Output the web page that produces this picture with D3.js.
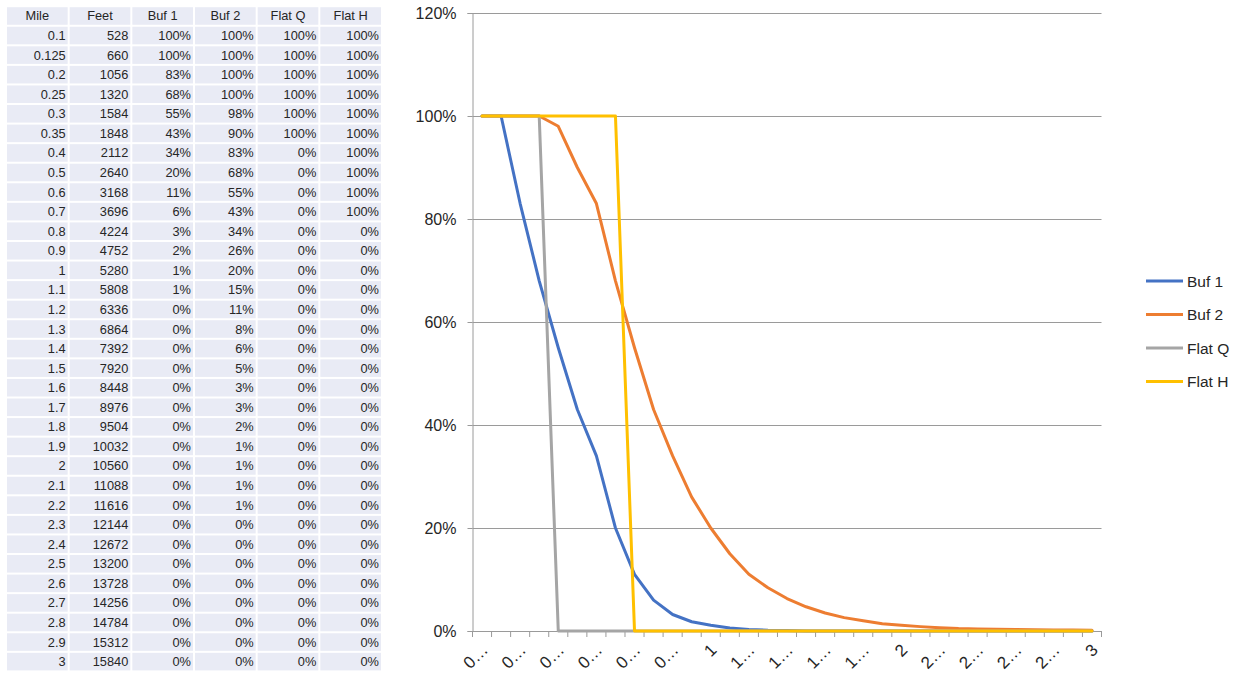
<!DOCTYPE html>
<html>
<head>
<meta charset="utf-8">
<script src="https://cdn.jsdelivr.net/npm/d3@7"></script>
<style>
  html, body { margin: 0; padding: 0; background: #ffffff; }
  svg { display: block; }
  text { font-family: "Liberation Sans", Arial, sans-serif; fill: #262626; }
</style>
</head>
<body>
<svg id="sheet" width="1242" height="673"></svg>
<script>
// ---- Worksheet table ----
const headers = ["Mile", "Feet", "Buf 1", "Buf 2", "Flat Q", "Flat H"];
const miles = [0.1, 0.125, 0.2, 0.25, 0.3, 0.35, 0.4, 0.5, 0.6, 0.7, 0.8, 0.9, 1, 1.1, 1.2, 1.3, 1.4, 1.5, 1.6, 1.7, 1.8, 1.9, 2, 2.1, 2.2, 2.3, 2.4, 2.5, 2.6, 2.7, 2.8, 2.9, 3];
const feet = [528, 660, 1056, 1320, 1584, 1848, 2112, 2640, 3168, 3696, 4224, 4752, 5280, 5808, 6336, 6864, 7392, 7920, 8448, 8976, 9504, 10032, 10560, 11088, 11616, 12144, 12672, 13200, 13728, 14256, 14784, 15312, 15840];
const tableBuf1 = [100, 100, 83, 68, 55, 43, 34, 20, 11, 6, 3, 2, 1, 1, 0, 0, 0, 0, 0, 0, 0, 0, 0, 0, 0, 0, 0, 0, 0, 0, 0, 0, 0];
const tableBuf2 = [100, 100, 100, 100, 98, 90, 83, 68, 55, 43, 34, 26, 20, 15, 11, 8, 6, 5, 3, 3, 2, 1, 1, 1, 1, 0, 0, 0, 0, 0, 0, 0, 0];
const tableFlatQ = [100, 100, 100, 100, 100, 100, 0, 0, 0, 0, 0, 0, 0, 0, 0, 0, 0, 0, 0, 0, 0, 0, 0, 0, 0, 0, 0, 0, 0, 0, 0, 0, 0];
const tableFlatH = [100, 100, 100, 100, 100, 100, 100, 100, 100, 100, 0, 0, 0, 0, 0, 0, 0, 0, 0, 0, 0, 0, 0, 0, 0, 0, 0, 0, 0, 0, 0, 0, 0];

// ---- Chart series (fractions, one value per mile category) ----
const buf1 = [1, 1, 0.83, 0.68, 0.55, 0.43, 0.34, 0.20, 0.11, 0.06, 0.032, 0.018, 0.011, 0.006, 0.003, 0.0015, 0.001, 0, 0, 0, 0, 0, 0, 0, 0, 0, 0, 0, 0, 0, 0, 0, 0];
const buf2 = [1, 1, 1, 1, 0.98, 0.90, 0.83, 0.68, 0.55, 0.43, 0.34, 0.26, 0.20, 0.15, 0.11, 0.084, 0.063, 0.047, 0.035, 0.026, 0.02, 0.014, 0.011, 0.0085, 0.0065, 0.0048, 0.004, 0.0035, 0.003, 0.0025, 0.002, 0.002, 0.0015];
const flatQ = [1, 1, 1, 1, 0, 0, 0, 0, 0, 0, 0, 0, 0, 0, 0, 0, 0, 0, 0, 0, 0, 0, 0, 0, 0, 0, 0, 0, 0, 0, 0, 0, 0];
const flatH = [1, 1, 1, 1, 1, 1, 1, 1, 0, 0, 0, 0, 0, 0, 0, 0, 0, 0, 0, 0, 0, 0, 0, 0, 0, 0, 0, 0, 0, 0, 0, 0, 0];
const seriesNames = ["Buf 1", "Buf 2", "Flat Q", "Flat H"];
const seriesColors = ["#4472C4", "#ED7D31", "#A5A5A5", "#FFC000"];
const yTicks = [0, 0.2, 0.4, 0.6, 0.8, 1.0, 1.2];

const svg = d3.select("#sheet");

// ---- Draw the table ----
const tableRows = miles.map((m, i) => [
  String(m), String(feet[i]),
  tableBuf1[i] + "%", tableBuf2[i] + "%", tableFlatQ[i] + "%", tableFlatH[i] + "%"
]);
const colX = d3.scaleBand().domain(d3.range(headers.length)).range([6, 382]);
const rowY = d3.scaleBand().domain(d3.range(tableRows.length + 1)).range([6.2, 671.4]);
const tbl = svg.append("g");
const allRows = [headers].concat(tableRows);
allRows.forEach((row, r) => {
  row.forEach((cell, c) => {
    tbl.append("rect")
      .attr("x", colX(c) + 1).attr("y", rowY(r) + 1)
      .attr("width", colX.bandwidth() - 2).attr("height", rowY.bandwidth() - 2)
      .attr("fill", "#E9EBF5");
    const t = tbl.append("text")
      .attr("y", rowY(r) + rowY.bandwidth() / 2 + 4.5)
      .style("font-size", "12.8px")
      .text(cell);
    if (r === 0) {
      t.attr("x", colX(c) + colX.bandwidth() / 2).attr("text-anchor", "middle");
    } else {
      t.attr("x", colX(c) + colX.bandwidth() - 3).attr("text-anchor", "end");
    }
  });
});

// ---- Draw the chart ----
const plot = { left: 472.5, right: 1101.5, top: 13, bottom: 631 };
const x = d3.scaleBand().domain(d3.range(miles.length)).range([plot.left, plot.right]);
const y = d3.scaleLinear().domain([0, 1.2]).range([plot.bottom, plot.top]);
const gridColor = "#9a9a9a";
const chart = svg.append("g");

// horizontal gridlines
chart.append("g").selectAll("line").data(yTicks.filter(v => v > 0)).join("line")
  .attr("x1", plot.left).attr("x2", plot.right)
  .attr("y1", d => Math.round(y(d)) + 0.5).attr("y2", d => Math.round(y(d)) + 0.5)
  .attr("stroke", gridColor).attr("stroke-width", 1);

// y axis
const yAxis = d3.axisLeft(y).tickValues(yTicks).tickFormat(d3.format(".0%")).tickSize(5).tickPadding(11);
const yG = chart.append("g").attr("transform", `translate(${plot.left},0)`).call(yAxis);
yG.select(".domain").attr("stroke", gridColor);
yG.selectAll(".tick line").attr("stroke", gridColor);
yG.selectAll(".tick text").style("font-size", "16px").style("font-family", "'Liberation Sans', Arial, sans-serif").attr("fill", "#262626");

// x axis: ticks between categories, labels on every other category
const xAxisG = chart.append("g");
xAxisG.append("line")
  .attr("x1", plot.left).attr("x2", plot.right)
  .attr("y1", plot.bottom + 0.5).attr("y2", plot.bottom + 0.5)
  .attr("stroke", gridColor);
const boundaries = d3.range(miles.length + 1).map(i => i < miles.length ? x(i) : x(miles.length - 1) + x.bandwidth());
xAxisG.selectAll("line.tk").data(boundaries).join("line").attr("class", "tk")
  .attr("x1", d => d).attr("x2", d => d)
  .attr("y1", plot.bottom).attr("y2", plot.bottom + 6)
  .attr("stroke", gridColor);
const shortLabel = m => { const s = String(m); return s.length > 1 ? s[0] + "…" : s; };
xAxisG.selectAll("text").data(miles.map((m, i) => ({ m, i })).filter(d => d.i % 2 === 0)).join("text")
  .attr("transform", d => `translate(${x(d.i) + x.bandwidth() / 2 + 7},${plot.bottom + 20}) rotate(-45)`)
  .attr("text-anchor", "end")
  .style("font-size", "17px")
  .text(d => shortLabel(d.m));

// series lines
const seriesData = [buf1, buf2, flatQ, flatH];
const line = d3.line()
  .x((d, i) => x(i) + x.bandwidth() / 2)
  .y(d => y(d));
seriesData.forEach((vals, k) => {
  chart.append("path")
    .datum(vals)
    .attr("d", line)
    .attr("fill", "none")
    .attr("stroke", seriesColors[k])
    .attr("stroke-width", 3)
    .attr("stroke-linejoin", "round")
    .attr("stroke-linecap", "round");
});

// legend
const legend = svg.append("g");
const legendY = d3.scalePoint().domain(seriesNames).range([281, 381.5]);
seriesNames.forEach((name, k) => {
  const ly = legendY(name);
  legend.append("line")
    .attr("x1", 1146).attr("x2", 1183)
    .attr("y1", ly).attr("y2", ly)
    .attr("stroke", seriesColors[k]).attr("stroke-width", 3);
  legend.append("text")
    .attr("x", 1187).attr("y", ly + 5.5)
    .style("font-size", "15.5px")
    .text(name);
});
</script>
</body>
</html>
